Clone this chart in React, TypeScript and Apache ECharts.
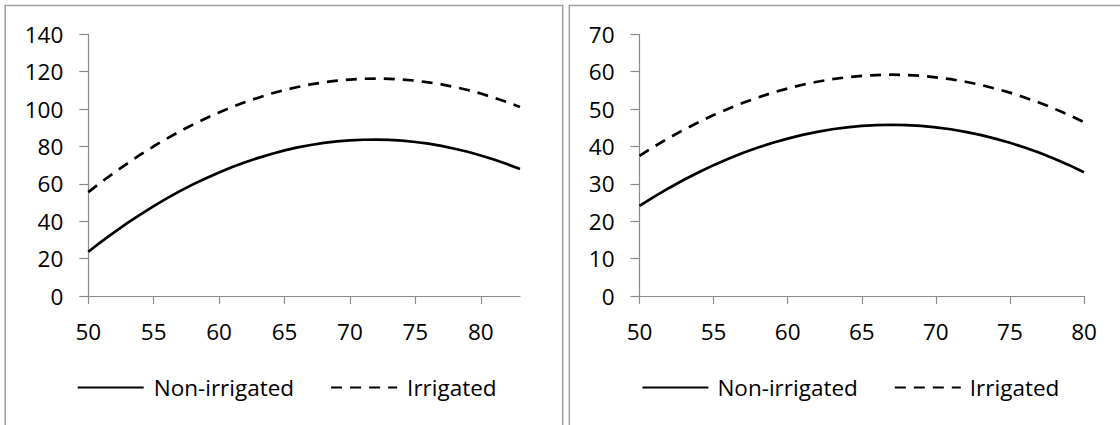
import React, { useEffect, useRef } from "react";
import * as echarts from "echarts";

// ---- Data ----
const xLeft = [50, 51, 52, 53, 54, 55, 56, 57, 58, 59, 60, 61, 62, 63, 64, 65, 66, 67, 68, 69, 70, 71, 72, 73, 74, 75, 76, 77, 78, 79, 80, 81, 82, 83];
const nonIrrigatedLeft = [23.7, 29.1, 34.2, 39.1, 43.7, 48.1, 52.2, 56.1, 59.7, 63.0, 66.1, 69.0, 71.6, 73.9, 76.0, 77.9, 79.5, 80.8, 81.9, 82.7, 83.3, 83.6, 83.7, 83.5, 83.1, 82.4, 81.5, 80.3, 78.8, 77.2, 75.2, 73.0, 70.6, 67.9];
const irrigatedLeft = [55.6, 61.0, 66.1, 71.0, 75.7, 80.1, 84.2, 88.1, 91.7, 95.1, 98.2, 101.1, 103.8, 106.1, 108.3, 110.2, 111.8, 113.2, 114.3, 115.2, 115.8, 116.2, 116.3, 116.2, 115.8, 115.2, 114.3, 113.2, 111.8, 110.2, 108.3, 106.1, 103.8, 101.1];

const xRight = [50, 51, 52, 53, 54, 55, 56, 57, 58, 59, 60, 61, 62, 63, 64, 65, 66, 67, 68, 69, 70, 71, 72, 73, 74, 75, 76, 77, 78, 79, 80];
const nonIrrigatedRight = [24.1, 26.6, 28.9, 31.1, 33.1, 35.0, 36.7, 38.3, 39.7, 41.0, 42.1, 43.1, 43.9, 44.6, 45.1, 45.5, 45.7, 45.8, 45.7, 45.5, 45.1, 44.6, 43.9, 43.1, 42.1, 41.0, 39.7, 38.3, 36.7, 35.0, 33.1];
const irrigatedRight = [37.5, 40.0, 42.3, 44.5, 46.5, 48.4, 50.1, 51.7, 53.1, 54.4, 55.5, 56.5, 57.3, 58.0, 58.5, 58.9, 59.1, 59.2, 59.1, 58.9, 58.5, 58.0, 57.3, 56.5, 55.5, 54.4, 53.1, 51.7, 50.1, 48.4, 46.5];

const xTicks = [50, 55, 60, 65, 70, 75, 80];
const seriesNames = ["Non-irrigated", "Irrigated"];

const FONT = "'Open Sans', sans-serif";
const FS = 22.5;
const AXIS_GRAY = "#8a8a8a";

function pairs(xs: number[], ys: number[]) {
  return xs.map((x, i) => [x, ys[i]]);
}

function xAxisCfg(gridIndex: number, max: number) {
  return {
    type: "value",
    gridIndex,
    min: 50,
    max,
    interval: 5,
    axisLine: { show: true, lineStyle: { color: AXIS_GRAY, width: 1.2 } },
    axisTick: { show: true, length: 8, customValues: xTicks, lineStyle: { color: AXIS_GRAY, width: 1.2 } },
    axisLabel: { customValues: xTicks, margin: 24, color: "#000", fontFamily: FONT, fontSize: FS },
    splitLine: { show: false },
  };
}

function yAxisCfg(gridIndex: number, max: number, interval: number) {
  return {
    type: "value",
    gridIndex,
    min: 0,
    max,
    interval,
    axisLine: { show: true, lineStyle: { color: AXIS_GRAY, width: 1.2 } },
    axisTick: { show: true, length: 9, lineStyle: { color: AXIS_GRAY, width: 1.2 } },
    axisLabel: { margin: 25, color: "#000", fontFamily: FONT, fontSize: FS },
    splitLine: { show: false },
  };
}

const solidStyle = { color: "#000", width: 2.7, type: "solid" };
const dashStyle = { color: "#000", width: 2.7, type: [11, 8] };

function lineSeries(name: string, xi: number, data: number[][], style: any) {
  return {
    type: "line",
    name,
    xAxisIndex: xi,
    yAxisIndex: xi,
    data,
    symbol: "none",
    showSymbol: false,
    lineStyle: style,
    itemStyle: { color: "#000" },
    silent: true,
  };
}

function legendCfg(left: number, itemGap: number, textPad: number) {
  return {
    left,
    top: 375.5,
    padding: 0,
    orient: "horizontal",
    itemWidth: 66,
    itemHeight: 24,
    itemGap,
    data: seriesNames,
    itemStyle: { opacity: 0 },
    textStyle: { color: "#000", fontFamily: FONT, fontSize: FS, lineHeight: 24, padding: [0, 0, 0, textPad] },
    selectedMode: false,
  };
}

export default function App() {
  const ref = useRef<HTMLDivElement>(null);
  useEffect(() => {
    document.body.style.margin = "0";
    const chart = echarts.init(ref.current!, null, { renderer: "svg" });
    chart.setOption({
      animation: false,
      backgroundColor: "#fff",
      grid: [
        { left: 88.3, top: 34.3, width: 431.7, height: 261.7 },
        { left: 639.5, top: 34.3, width: 444.5, height: 261.7 },
      ],
      xAxis: [xAxisCfg(0, 83), xAxisCfg(1, 80)],
      yAxis: [yAxisCfg(0, 140, 20), yAxisCfg(1, 70, 10)],
      legend: [legendCfg(76.7, 36, 5), legendCfg(641.4, 36, 4)],
      graphic: [
        { type: "rect", shape: { x: 5.2, y: 5.5, width: 557.5, height: 460 }, style: { fill: "none", stroke: "#a0a0a0", lineWidth: 1.5 }, silent: true },
        { type: "rect", shape: { x: 569.3, y: 5.5, width: 600, height: 460 }, style: { fill: "none", stroke: "#a0a0a0", lineWidth: 1.5 }, silent: true },
      ],
      series: [
        lineSeries(seriesNames[0], 0, pairs(xLeft, nonIrrigatedLeft), solidStyle),
        lineSeries(seriesNames[1], 0, pairs(xLeft, irrigatedLeft), dashStyle),
        lineSeries(seriesNames[0], 1, pairs(xRight, nonIrrigatedRight), solidStyle),
        lineSeries(seriesNames[1], 1, pairs(xRight, irrigatedRight), dashStyle),
      ],
    });
    return () => chart.dispose();
  }, []);
  return <div ref={ref} style={{ width: 1120, height: 425, position: "absolute", left: 0, top: 0 }} />;
}
